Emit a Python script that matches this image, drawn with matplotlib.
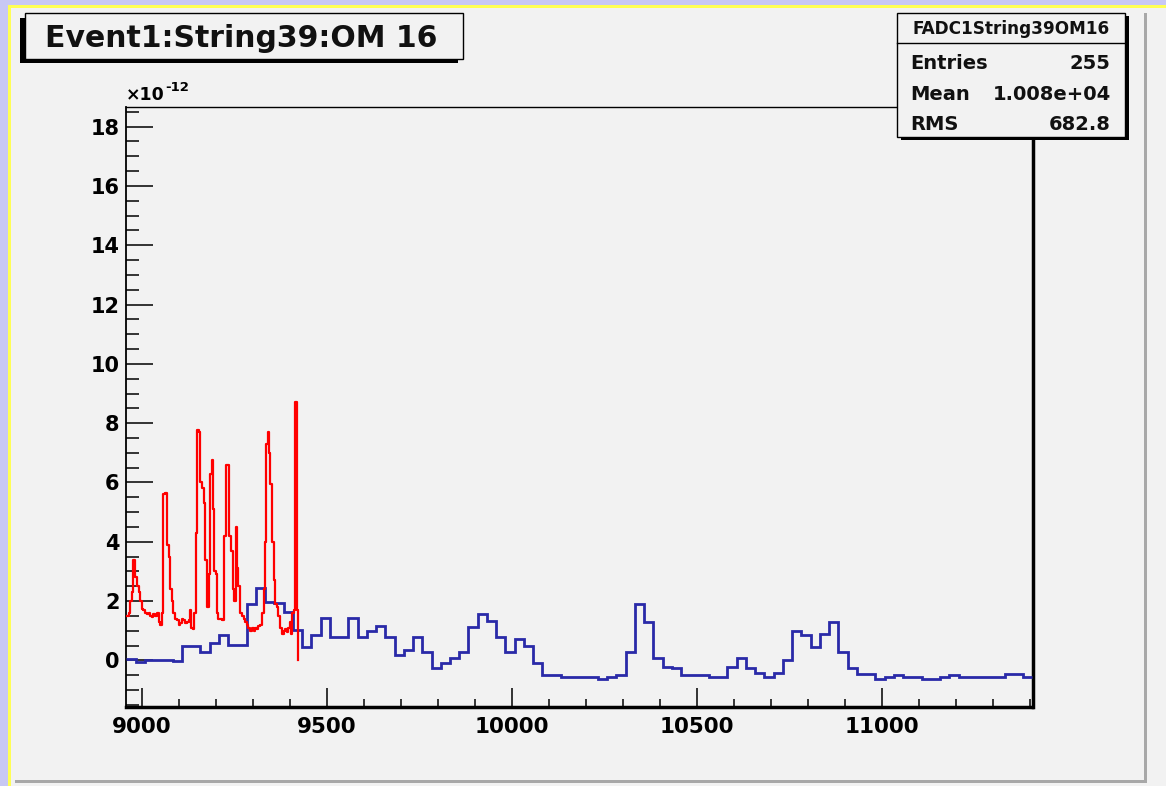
import matplotlib
matplotlib.use("Agg")
import matplotlib.pyplot as plt
from matplotlib.patches import Rectangle
from matplotlib.lines import Line2D
from matplotlib.ticker import MultipleLocator, FuncFormatter

plt.rcParams['font.family'] = ['DejaVu Sans']
plt.rcParams['font.weight'] = 'bold'

# ---------------- data (y in units of 1e-12) ----------------
blue_start = 8958.0
blue_width = 25.0
blue_values = [0.04, -0.05, 0.0, 0.03, 0.02, -0.02, 0.48, 0.48, 0.28, 0.58,
               0.87, 0.53, 0.53, 1.90, 2.43, 1.97, 1.93, 1.62, 1.02, 0.45,
               0.87, 1.42, 0.79, 0.79, 1.42, 0.79, 1.00, 1.15, 0.80, 0.19,
               0.35, 0.80, 0.28, -0.26, -0.08, 0.07, 0.30, 1.14, 1.56, 1.33,
               0.80, 0.28, 0.73, 0.47, -0.08, -0.48, -0.48, -0.55, -0.55, -0.55,
               -0.55, -0.61, -0.55, -0.48, 0.28, 1.89, 1.29, 0.07, -0.21, -0.27,
               -0.49, -0.49, -0.49, -0.55, -0.55, -0.21, 0.07, -0.26, -0.44, -0.55,
               -0.44, 0.02, 1.00, 0.86, 0.46, 0.89, 1.28, 0.28, -0.26, -0.47,
               -0.47, -0.62, -0.55, -0.49, -0.55, -0.55, -0.62, -0.62, -0.55, -0.49,
               -0.55, -0.55, -0.55, -0.55, -0.55, -0.46, -0.46, -0.55]

red_x = [8958.6, 8964, 8968, 8973, 8977, 8982, 8986, 8991, 8995, 9000,
         9004, 9009, 9013, 9018, 9022, 9027, 9031, 9036, 9041, 9045,
         9049, 9053, 9056, 9058, 9063, 9068, 9072, 9077, 9081, 9085,
         9090, 9095, 9099, 9104, 9108, 9112, 9117, 9122, 9126, 9131,
         9133, 9138, 9141, 9145, 9149, 9154, 9158, 9162, 9167, 9171,
         9176, 9180, 9185, 9189, 9192, 9195, 9201, 9204, 9207, 9216,
         9221, 9223, 9227, 9233, 9236, 9241, 9246, 9250, 9254, 9257,
         9261, 9266, 9270, 9275, 9279, 9284, 9288, 9293, 9297, 9302,
         9306, 9311, 9315, 9320, 9324, 9329, 9333, 9336, 9340, 9343,
         9347, 9352, 9356, 9360, 9365, 9369, 9374, 9379, 9383, 9388,
         9392, 9396, 9401, 9404, 9406, 9410, 9413, 9415, 9418, 9421]
red_y = [1.5, 1.6, 2.0, 2.3, 3.4, 2.83, 2.5, 2.3, 2.0, 1.75,
         1.7, 1.6, 1.55, 1.6, 1.5, 1.45, 1.55, 1.5, 1.6, 1.3,
         1.2, 1.6, 3.8, 5.6, 5.64, 3.9, 3.5, 2.4, 2.0, 1.6,
         1.4, 1.35, 1.2, 1.25, 1.4, 1.35, 1.25, 1.3, 1.35, 1.7,
         1.1, 1.05, 1.6, 4.3, 7.77, 7.7, 6.0, 5.8, 5.3, 3.4,
         1.8, 2.9, 6.3, 6.76, 5.1, 3.0, 2.9, 1.6, 1.4, 1.35,
         1.4, 4.2, 6.6, 6.6, 4.2, 3.7, 2.4, 2.0, 4.5, 3.1,
         2.5, 1.6, 1.5, 1.4, 1.3, 1.2, 1.1, 1.0, 1.1, 1.0,
         1.1, 1.05, 1.15, 1.2, 1.6, 2.4, 4.0, 7.3, 7.7, 7.0,
         5.95, 4.0, 2.7, 1.9, 1.8, 1.5, 1.1, 0.9, 1.0, 1.05,
         0.95, 1.1, 1.3, 0.9, 1.6, 1.7, 8.7, 8.7, 1.7, 0.0]

title_text = "Event1:String39:OM 16"
stats_name = "FADC1String39OM16"
stats_labels = ["Entries", "Mean", "RMS"]
stats_values = ["255", "1.008e+04", "682.8"]

# ---------------- figure ----------------
W, H = 1166, 786
BG = '#f2f2f2'
fig = plt.figure(figsize=(W / 100, H / 100), dpi=100, facecolor=BG)

def fx(px):
    return px / W

def fy(py):
    return 1 - py / H

def frect(x0, y0, x1, y1, **kw):
    r = Rectangle((fx(x0), fy(y1)), fx(x1) - fx(x0), fy(y0) - fy(y1),
                  transform=fig.transFigure, **kw)
    fig.add_artist(r)
    return r

# window border (lavender + yellow) and pad shadow
frect(0, 0, W, 5, facecolor='#c8c8f4', edgecolor='none', zorder=0)
frect(0, 0, 8, H, facecolor='#c8c8f4', edgecolor='none', zorder=0)
frect(8, 5, W, 8, facecolor='#ffff55', edgecolor='none', zorder=0)
frect(8, 5, 11, H, facecolor='#ffff55', edgecolor='none', zorder=0)
frect(1144, 13, 1147, 783, facecolor='#a8a8a8', edgecolor='none', zorder=0)
frect(15, 780, 1147, 783, facecolor='#a8a8a8', edgecolor='none', zorder=0)

# axes
ax_l, ax_r, ax_t, ax_b = 126.4, 1032.5, 106.7, 707.0
ax = fig.add_axes([fx(ax_l), fy(ax_b), fx(ax_r) - fx(ax_l), fy(ax_t) - fy(ax_b)])
ax.set_facecolor(BG)

edges = [blue_start + blue_width * i for i in range(len(blue_values) + 1)]
ax.stairs(blue_values, edges, baseline=None, color='#2a2aa8', lw=2.0, zorder=3)
ax.plot(red_x, red_y, drawstyle='steps-post', color='#ff0000', lw=1.6, zorder=4)

ax.set_xlim(edges[0], edges[-1])
ax.set_ylim(-1.57, 18.67)

ax.xaxis.set_major_locator(MultipleLocator(500))
ax.xaxis.set_minor_locator(MultipleLocator(100))
ax.yaxis.set_major_locator(MultipleLocator(2))
ax.yaxis.set_minor_locator(MultipleLocator(0.5))
ax.xaxis.set_major_formatter(FuncFormatter(lambda v, p: f"{v:.0f}"))
ax.yaxis.set_major_formatter(FuncFormatter(lambda v, p: f"{v:.0f}"))

ax.tick_params(axis='x', which='major', direction='in', length=13.7, width=1.1,
               pad=7.5, labelsize=15.5, top=False, colors='black')
ax.tick_params(axis='x', which='minor', direction='in', length=5.8, width=1.1, top=False)
ax.tick_params(axis='y', which='major', direction='in', length=19.4, width=1.1,
               pad=5, labelsize=15, right=False)
ax.tick_params(axis='y', which='minor', direction='in', length=9.4, width=1.1, right=False)
for lab in ax.get_xticklabels() + ax.get_yticklabels():
    lab.set_fontweight('bold')

ax.spines['top'].set_linewidth(1.0)
ax.spines['left'].set_linewidth(1.3)
ax.spines['bottom'].set_linewidth(2.5)
ax.spines['right'].set_linewidth(2.5)
for s in ax.spines.values():
    s.set_color('black')

# exponent label
fig.text(fx(126), fy(100), "×10", ha='left', va='baseline', fontsize=12.5,
         fontweight='bold', color='black')
fig.text(fx(165), fy(91), "-12", ha='left', va='baseline', fontsize=9.5,
         fontweight='bold', color='black')

# title box
frect(20, 18, 458, 63, facecolor='black', edgecolor='none', zorder=5)
frect(25, 13, 463, 59, facecolor=BG, edgecolor='black', lw=1.0, zorder=6)
fig.text(fx(241), fy(46.7), title_text, ha='center', va='baseline',
         fontsize=21.5, fontweight='bold', color='#111111', zorder=7)

# stats box
frect(900.8, 16.2, 1128.5, 140.2, facecolor='black', edgecolor='none', zorder=5)
frect(897.3, 12.7, 1125, 136.7, facecolor=BG, edgecolor='black', lw=1.0, zorder=6)
fig.add_artist(Line2D([fx(897.3), fx(1125)], [fy(43.3), fy(43.3)],
                      transform=fig.transFigure, color='black', lw=1.0, zorder=7))
fig.text(fx(1011), fy(34), stats_name, ha='center', va='baseline', fontsize=12.2,
         fontweight='bold', color='#111111', zorder=8)
for lab, val, yb in zip(stats_labels, stats_values, [69, 100, 130]):
    fig.text(fx(910.7), fy(yb), lab, ha='left', va='baseline', fontsize=14,
             fontweight='bold', color='#111111', zorder=8)
    fig.text(fx(1110.7), fy(yb), val, ha='right', va='baseline', fontsize=14,
             fontweight='bold', color='#111111', zorder=8)

fig.savefig("out.png", dpi=100, facecolor=BG)
